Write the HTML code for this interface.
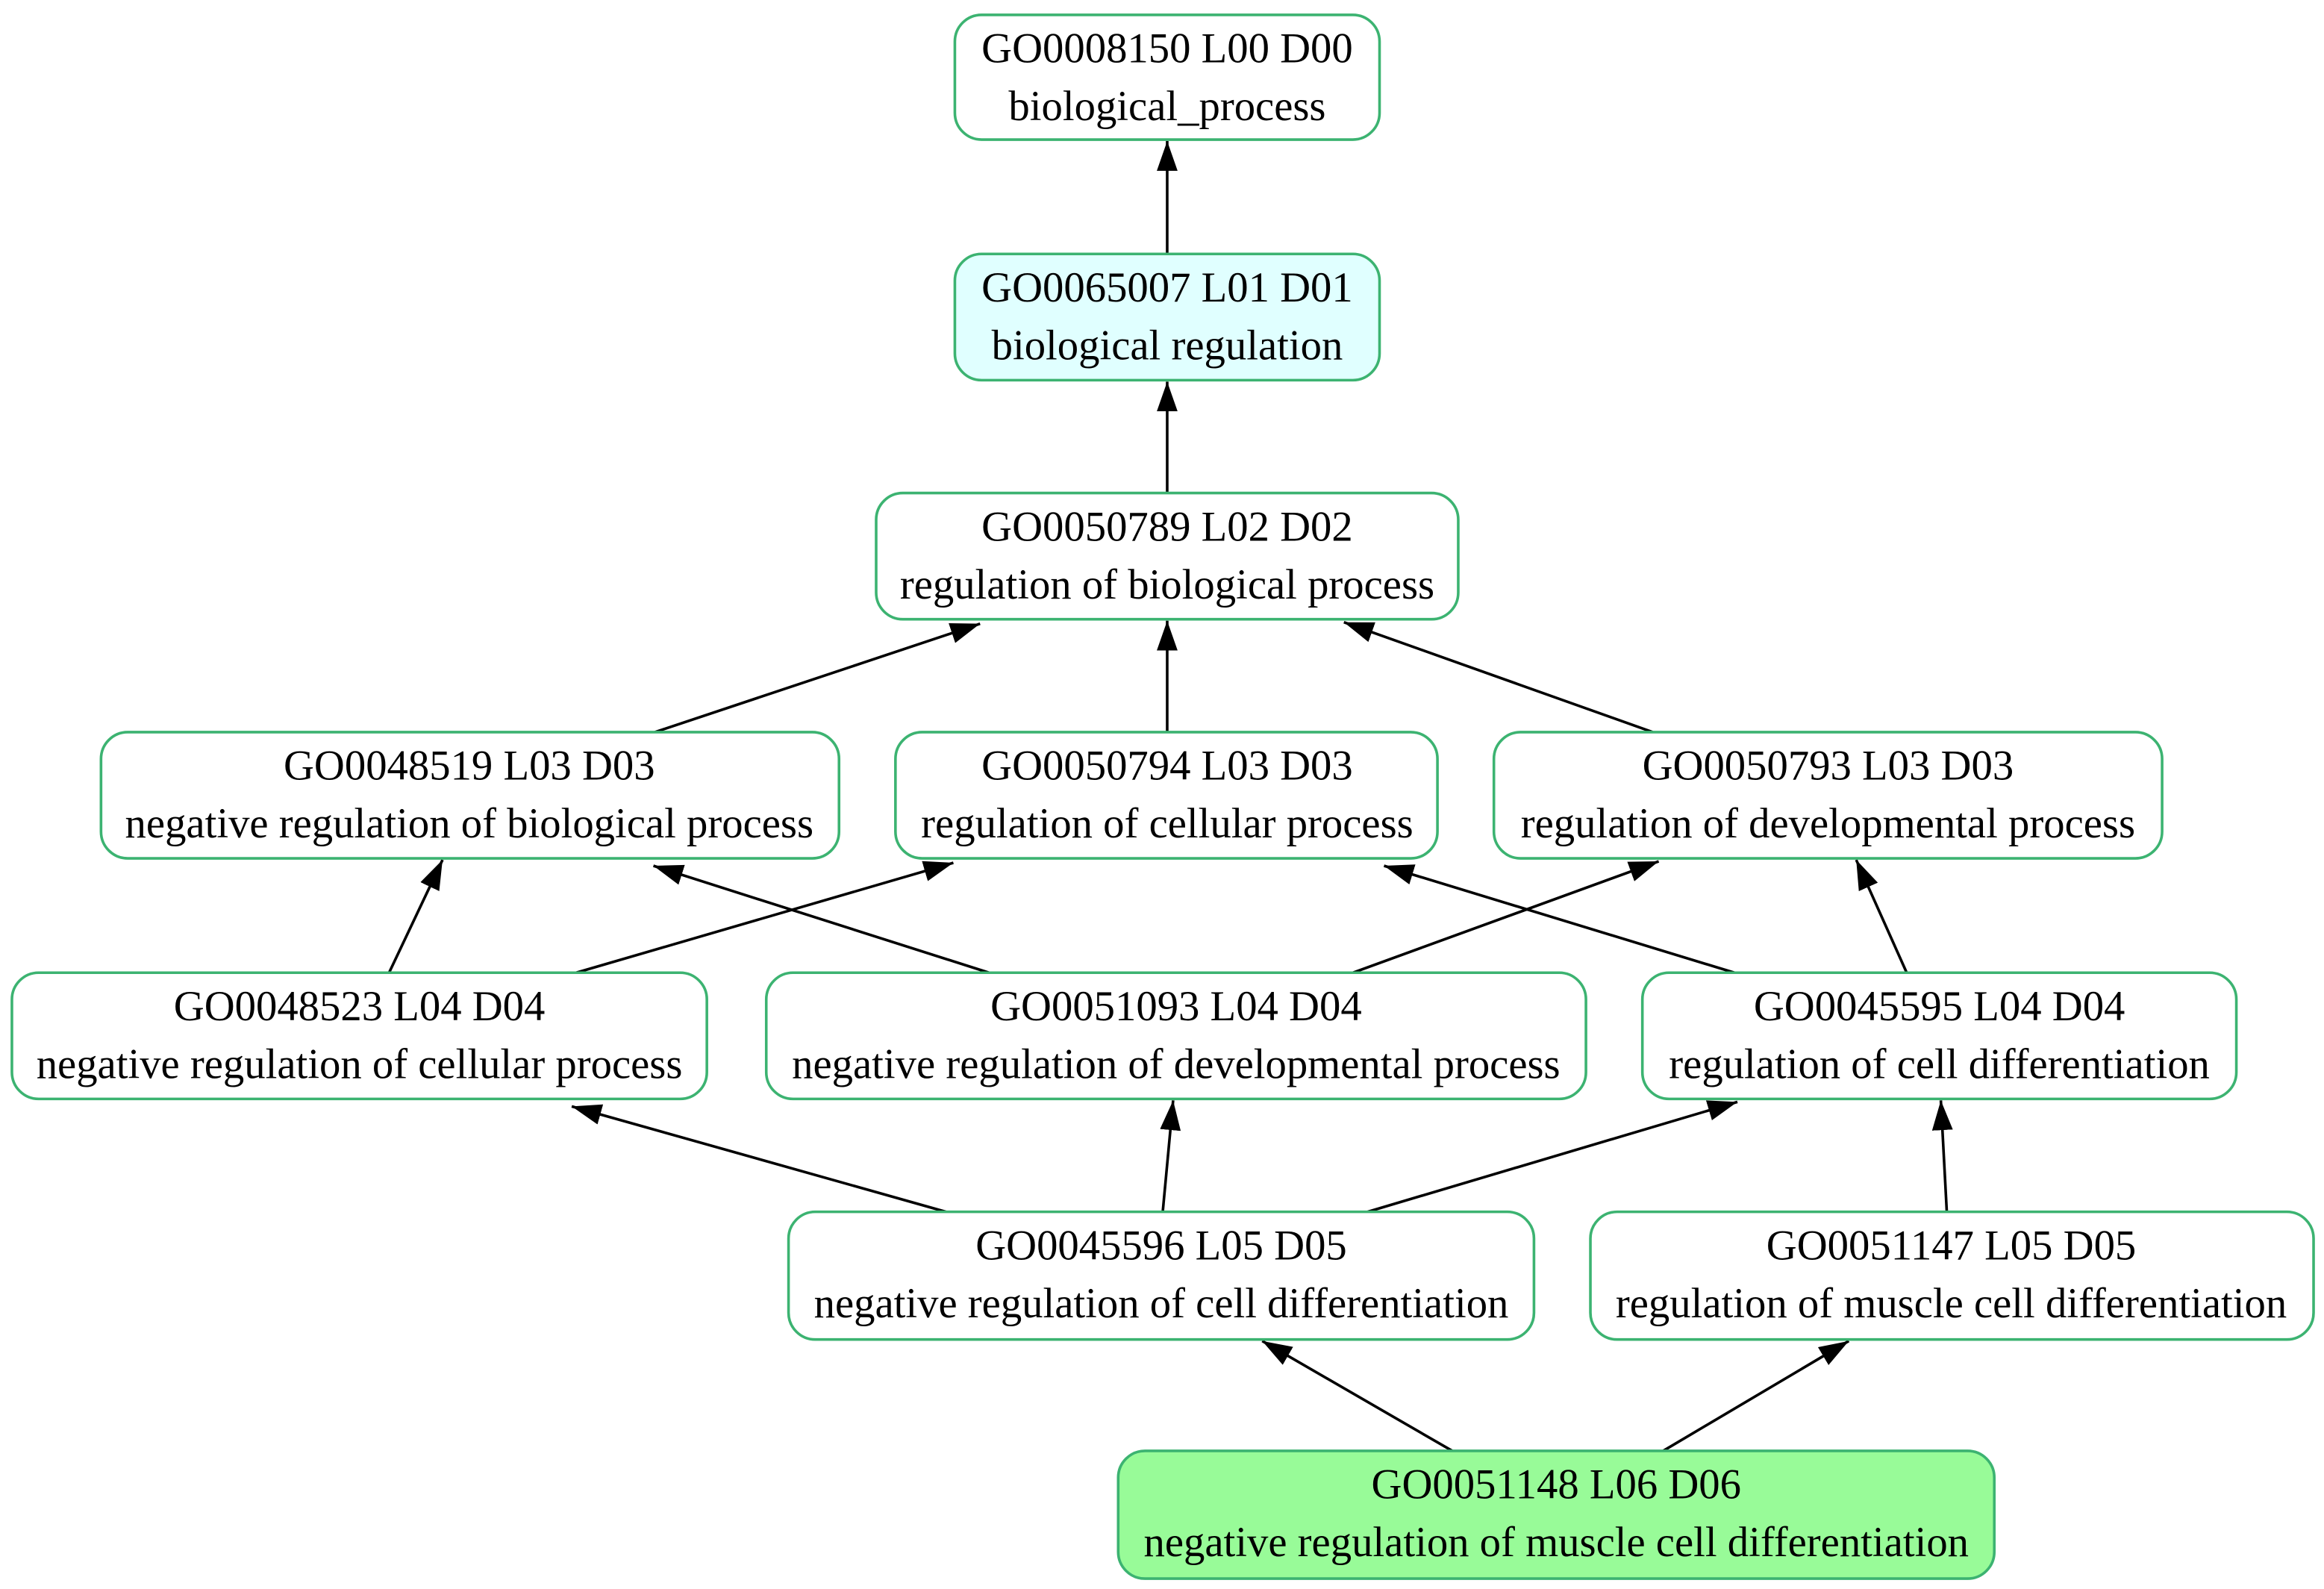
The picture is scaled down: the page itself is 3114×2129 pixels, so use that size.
<!DOCTYPE html>
<html><head><meta charset="utf-8"><style>
html,body{margin:0;padding:0;background:#fff;}
svg{display:block;}
text{font-family:"Liberation Serif",serif;font-size:28.5px;fill:#000;text-anchor:middle;}
</style></head><body>
<svg width="3114" height="2129" viewBox="0 0 1565 1070" xmlns="http://www.w3.org/2000/svg">
<defs><marker id="a" markerUnits="userSpaceOnUse" markerWidth="22" markerHeight="16" refX="20" refY="7" orient="auto"><path d="M0,0 L20,7 L0,14 Z" fill="#000"/></marker></defs>
<rect width="1565" height="1070" fill="#fff"/>
<g stroke="#000" stroke-width="1.8" marker-end="url(#a)">
<line x1="786" y1="171" x2="786" y2="95"/>
<line x1="786" y1="332" x2="786" y2="257"/>
<line x1="441" y1="493" x2="660" y2="420"/>
<line x1="786" y1="493" x2="786" y2="418"/>
<line x1="1113" y1="493" x2="905" y2="419"/>
<line x1="262" y1="655" x2="298" y2="579"/>
<line x1="388" y1="655" x2="642" y2="581"/>
<line x1="666" y1="655" x2="440" y2="583"/>
<line x1="911" y1="655" x2="1117" y2="580"/>
<line x1="1168" y1="655" x2="932" y2="583"/>
<line x1="1284" y1="655" x2="1250" y2="579"/>
<line x1="637" y1="816" x2="385" y2="745"/>
<line x1="783" y1="816" x2="790" y2="741"/>
<line x1="921" y1="816" x2="1170" y2="742"/>
<line x1="1311" y1="816" x2="1307" y2="741"/>
<line x1="978" y1="977" x2="850" y2="903"/>
<line x1="1120" y1="977" x2="1245" y2="903"/>
</g>
<g stroke="#3cb371" stroke-width="1.8">
<rect x="643" y="10" width="286" height="84" rx="18" fill="#fff"/>
<rect x="643" y="171" width="286" height="85" rx="18" fill="#e0ffff"/>
<rect x="590" y="332" width="392" height="85" rx="18" fill="#fff"/>
<rect x="68" y="493" width="497" height="85" rx="18" fill="#fff"/>
<rect x="603" y="493" width="365" height="85" rx="18" fill="#fff"/>
<rect x="1006" y="493" width="450" height="85" rx="18" fill="#fff"/>
<rect x="8" y="655" width="468" height="85" rx="18" fill="#fff"/>
<rect x="516" y="655" width="552" height="85" rx="18" fill="#fff"/>
<rect x="1106" y="655" width="400" height="85" rx="18" fill="#fff"/>
<rect x="531" y="816" width="502" height="86" rx="18" fill="#fff"/>
<rect x="1071" y="816" width="487" height="86" rx="18" fill="#fff"/>
<rect x="753" y="977" width="590" height="86" rx="18" fill="#98fb98"/>
</g>
<text x="786" y="42">GO0008150 L00 D00</text><text x="786" y="81">biological_process</text>
<text x="786" y="203">GO0065007 L01 D01</text><text x="786" y="242">biological regulation</text>
<text x="786" y="364">GO0050789 L02 D02</text><text x="786" y="403">regulation of biological process</text>
<text x="316" y="525">GO0048519 L03 D03</text><text x="316" y="564">negative regulation of biological process</text>
<text x="786" y="525">GO0050794 L03 D03</text><text x="786" y="564">regulation of cellular process</text>
<text x="1231" y="525">GO0050793 L03 D03</text><text x="1231" y="564">regulation of developmental process</text>
<text x="242" y="687">GO0048523 L04 D04</text><text x="242" y="726">negative regulation of cellular process</text>
<text x="792" y="687">GO0051093 L04 D04</text><text x="792" y="726">negative regulation of developmental process</text>
<text x="1306" y="687">GO0045595 L04 D04</text><text x="1306" y="726">regulation of cell differentiation</text>
<text x="782" y="848">GO0045596 L05 D05</text><text x="782" y="887">negative regulation of cell differentiation</text>
<text x="1314" y="848">GO0051147 L05 D05</text><text x="1314" y="887">regulation of muscle cell differentiation</text>
<text x="1048" y="1009">GO0051148 L06 D06</text><text x="1048" y="1048">negative regulation of muscle cell differentiation</text>
</svg>
</body></html>
